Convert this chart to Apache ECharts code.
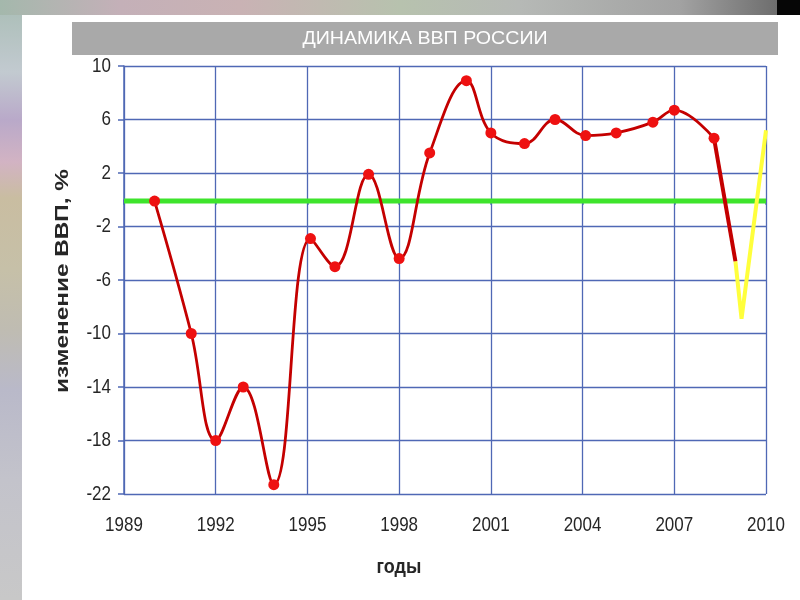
<!DOCTYPE html>
<html>
<head>
<meta charset="utf-8">
<script src="https://cdn.jsdelivr.net/npm/echarts@6/dist/echarts.min.js"></script>
<style>
	html, body { margin: 0; padding: 0; }
	body {
		width: 800px; height: 600px; position: relative; overflow: hidden;
		background: linear-gradient(to bottom, #a9bdb5 0%, #c2cad0 12%, #b9a9c9 20%, #d2b3c3 27%, #c9bda1 33%, #c6c0a8 45%, #bfbcb2 55%, #b9b9c9 65%, #c3c3cb 80%, #c8c8c8 100%);
	}
	#top {
		position: absolute; left: 0; top: 0; width: 800px; height: 15px;
		background: linear-gradient(to right, #a4b8ac 0%, #c4b0b8 15%, #c9b2b4 30%, #b7c2ae 50%, #b6b9b6 65%, #a2a2a2 85%, #6e6e6e 97%);
	}
	#corner { position: absolute; right: 0; top: 0; width: 23px; height: 15px; background: #060606; }
	#panel { position: absolute; left: 22px; top: 15px; right: 0; bottom: 0; background: #ffffff; }
	#chart { position: absolute; left: 0; top: 0; width: 800px; height: 600px; }
</style>
</head>
<body>
<div id="top"></div>
<div id="corner"></div>
<div id="panel"></div>
<div id="chart"></div>
<script>
// ---------- DATA ----------
var years = [1990, 1991.2, 1992, 1992.9, 1993.9, 1995.1, 1995.9, 1997, 1998, 1999,
	2000.2, 2001, 2002.1, 2003.1, 2004.1, 2005.1, 2006.3, 2007, 2008.3];
var gdp = [-0.1, -10, -18, -14, -21.3, -2.9, -5, 1.9, -4.4, 3.5,
	8.9, 5, 4.2, 6, 4.8, 5, 5.8, 6.7, 4.6];

// спад 2008-2009 (красный, без маркеров)
var dropYears = [2008.3, 2009.0];
var dropGdp = [4.6, -4.6];

// кризис и восстановление (жёлтый)
var crisisYears = [2009.0, 2009.2, 2010.0];
var crisisGdp = [-4.6, -8.9, 5.2];

var zeroLevel = -0.1;

var xTicks = [1989, 1992, 1995, 1998, 2001, 2004, 2007, 2010];
var yTicks = [-22, -18, -14, -10, -6, -2, 2, 6, 10];

var titleText = 'ДИНАМИКА ВВП РОССИИ';
var yTitle = 'изменение ВВП, %';
var xTitle = 'годы';

function pairs(xs, ys) {
	return xs.map(function (x, i) { return [x, ys[i]]; });
}

// ---------- CHART ----------
var xMin = xTicks[0], xMax = xTicks[xTicks.length - 1];
var yMin = yTicks[0], yMax = yTicks[yTicks.length - 1];
var gridColor = '#4f68b5';
var textColor = '#262626';
var chart = echarts.init(document.getElementById('chart'));

var option = {
	backgroundColor: 'transparent',
	animation: false,
	grid: {
		left: 124,
		right: 34,
		top: 66,
		bottom: 106
	},
	xAxis: {
		type: 'value',
		min: xMin,
		max: xMax,
		interval: xTicks[1] - xTicks[0],
		axisLine: { show: true, lineStyle: { color: gridColor, width: 1.5 } },
		axisTick: { show: true, length: 5, lineStyle: { color: gridColor, width: 1.5 } },
		splitLine: { show: true, lineStyle: { color: gridColor, width: 1.3 } },
		axisLabel: { show: false }
	},
	yAxis: {
		type: 'value',
		min: yMin,
		max: yMax,
		interval: yTicks[1] - yTicks[0],
		axisLine: { show: true, lineStyle: { color: gridColor, width: 1.5 } },
		axisTick: { show: true, length: 6, lineStyle: { color: gridColor, width: 1.5 } },
		splitLine: { show: true, lineStyle: { color: gridColor, width: 1.3 } },
		axisLabel: { show: false }
	},
	graphic: [
		{
			type: 'rect',
			shape: { x: 72, y: 22, width: 706, height: 33 },
			style: { fill: '#a9a9a9' },
			z: 10
		},
		{
			type: 'text',
			x: 425,
			y: 39,
			scaleX: 1.09,
			style: {
				text: titleText,
				fill: '#ffffff',
				font: '18px "Liberation Sans"',
				align: 'center',
				verticalAlign: 'middle'
			},
			z: 11
		},
		{
			type: 'text',
			x: 63,
			y: 281,
			rotation: Math.PI / 2,
			scaleX: 1.28,
			style: {
				text: yTitle,
				fill: textColor,
				font: 'bold 19px "Liberation Sans"',
				align: 'center',
				verticalAlign: 'middle'
			}
		},
		{
			type: 'text',
			x: 399,
			y: 567,
			scaleY: 1.15,
			style: {
				text: xTitle,
				fill: textColor,
				font: 'bold 18px "Liberation Sans"',
				align: 'center',
				verticalAlign: 'middle'
			}
		}
	],
	series: [
		{
			name: 'zero',
			type: 'line',
			data: [[xMin, zeroLevel], [xMax, zeroLevel]],
			symbol: 'none',
			silent: true,
			lineStyle: { color: '#3ee42c', width: 5 },
			z: 2
		},
		{
			name: 'ВВП',
			type: 'line',
			data: pairs(years, gdp),
			smooth: 0.4,
			symbol: 'circle',
			symbolSize: 11,
			lineStyle: { color: '#c40000', width: 2.8 },
			itemStyle: { color: '#ee1111' },
			z: 4
		},
		{
			name: 'спад',
			type: 'line',
			data: pairs(dropYears, dropGdp),
			symbol: 'none',
			lineStyle: { color: '#c40000', width: 4 },
			z: 4
		},
		{
			name: 'кризис',
			type: 'line',
			data: pairs(crisisYears, crisisGdp),
			symbol: 'none',
			lineStyle: { color: '#ffff3c', width: 4 },
			z: 3
		}
	]
};

chart.setOption(option);

// подписи делений: вытянутый по вертикали шрифт, позиции берём из осей
var tickLabels = [];
xTicks.forEach(function (v) {
	var p = chart.convertToPixel({ gridIndex: 0 }, [v, yMin]);
	tickLabels.push({
		type: 'text', x: p[0], y: p[1] + 31, scaleY: 1.22,
		style: { text: String(v), fill: textColor, font: '17px "Liberation Sans"', align: 'center', verticalAlign: 'middle' }
	});
});
yTicks.forEach(function (v) {
	var p = chart.convertToPixel({ gridIndex: 0 }, [xMin, v]);
	tickLabels.push({
		type: 'text', x: p[0] - 13, y: p[1], scaleY: 1.22,
		style: { text: String(v), fill: textColor, font: '17px "Liberation Sans"', align: 'right', verticalAlign: 'middle' }
	});
});
chart.setOption({ graphic: option.graphic.concat(tickLabels) });
</script>
</body>
</html>
